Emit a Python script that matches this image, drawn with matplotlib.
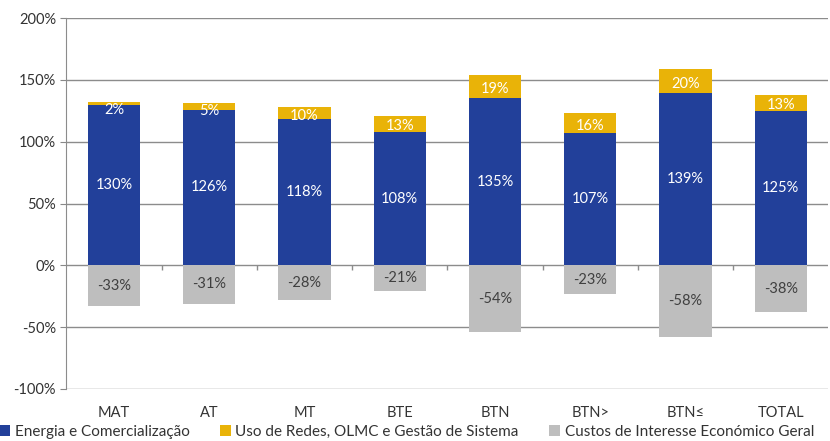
import numpy as np
import matplotlib.pyplot as plt

plt.rcParams['font.family'] = ['Lato', 'DejaVu Sans']

categorias = ['MAT', 'AT', 'MT', 'BTE', 'BTN', 'BTN>', 'BTN≤', 'TOTAL']
energia = [130, 126, 118, 108, 135, 107, 139, 125]
redes = [2, 5, 10, 13, 19, 16, 20, 13]
cieg = [-33, -31, -28, -21, -54, -23, -58, -38]

series_nomes = ['Energia e Comercialização',
                'Uso de Redes, OLMC e Gestão de Sistema',
                'Custos de Interesse Económico Geral']
cores = ['#22409A', '#E9B308', '#BEBEBE']

fig = plt.figure(figsize=(8.3, 4.41), dpi=100)
ax = fig.add_axes([0.08, 0.118, 0.918, 0.841])

x = np.arange(len(categorias))
w = 0.55

ax.bar(x, energia, w, color=cores[0], label=series_nomes[0], zorder=3)
ax.bar(x, redes, w, bottom=energia, color=cores[1], label=series_nomes[1], zorder=3)
ax.bar(x, cieg, w, color=cores[2], label=series_nomes[2], zorder=3)

for i in range(len(categorias)):
    topo = energia[i] + redes[i]
    ax.text(x[i], energia[i] / 2, f'{energia[i]}%', ha='center', va='center',
            color='white', fontsize=10.5, zorder=4)
    y_redes = min(energia[i] + redes[i] / 2 - 2, topo - 6)
    ax.text(x[i], y_redes, f'{redes[i]}%', ha='center', va='center',
            color='white', fontsize=10.5, zorder=4)
    ax.text(x[i], cieg[i] / 2, f'{cieg[i]}%', ha='center', va='center',
            color='#404040', fontsize=10.5, zorder=4)

ax.set_xlim(-0.5, len(categorias) - 0.5)
ax.set_ylim(-100, 200)
ax.set_yticks(range(-100, 201, 50))
ax.set_yticklabels([f'{v}%' for v in range(-100, 201, 50)], fontsize=10.5, color='#333333')
ax.set_xticks(x)
ax.set_xticklabels(categorias, fontsize=10.5, color='#333333')
ax.tick_params(axis='x', length=0, pad=12)
ax.tick_params(axis='y', length=4, color='#888888')

ax.grid(axis='y', color='#8c8c8c', linewidth=1, zorder=0)
for s in ['top', 'right', 'bottom']:
    ax.spines[s].set_visible(False)
ax.spines['left'].set_color('#8c8c8c')

# marcas entre categorias no eixo 0
limites = np.arange(len(categorias) + 1) - 0.5
ax.vlines(limites[1:-1], 0, -4, color='#8c8c8c', linewidth=1, zorder=2)

fig.legend(loc='lower center', bbox_to_anchor=(0.49, 0.0), ncol=3, frameon=False,
           fontsize=11, handlelength=0.7, handleheight=0.7, handletextpad=0.3,
           columnspacing=2.0, labelcolor='#333333', borderpad=0.15, borderaxespad=0)

fig.savefig('out.png', dpi=100)
